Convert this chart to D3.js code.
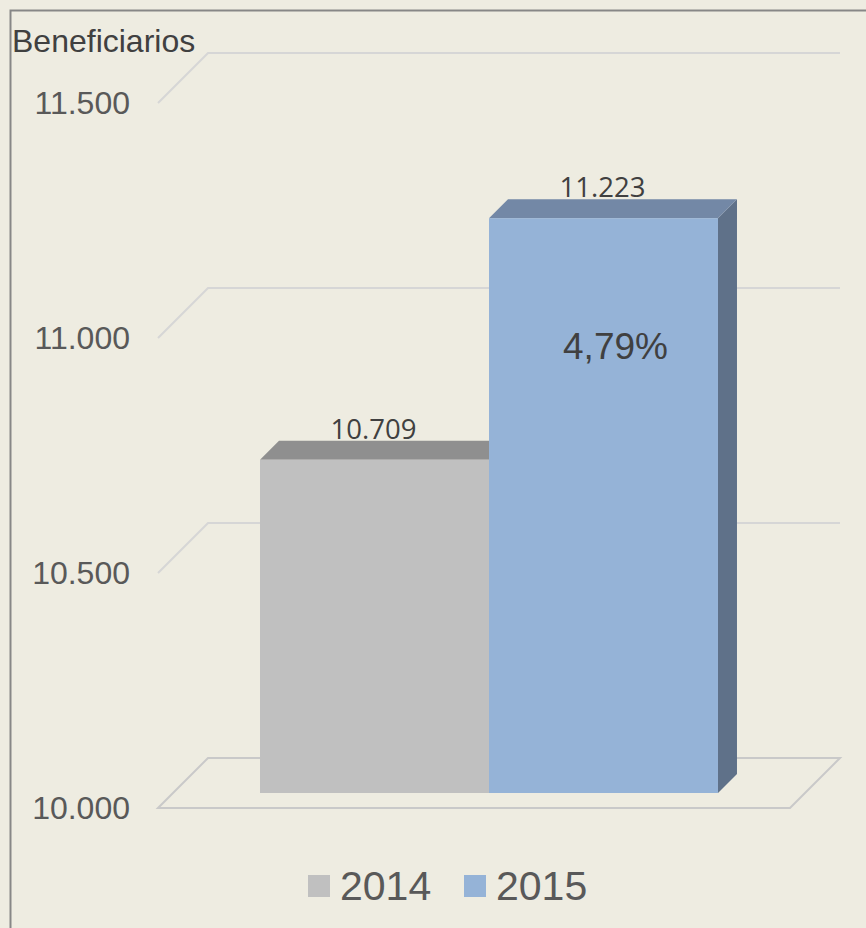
<!DOCTYPE html>
<html>
<head>
<meta charset="utf-8">
<script src="https://cdn.jsdelivr.net/npm/d3@7"></script>
<style>
  body { margin: 0; background: #EEECE1; }
  svg { display: block; }
</style>
</head>
<body>
<svg id="chart"></svg>
<script>
const categories = ["2014", "2015"];
const values = [10709, 11223];
const yTicks = [10000, 10500, 11000, 11500];
const axisTitle = "Beneficiarios";
const growthLabel = "4,79%";

const W = 866, H = 928;
const depth = 50;          // back wall offset
const barFront = 15, barBack = 34;

const colors = [
  {front: "#C0C0C0", top: "#8F8F8F", side: "#7A7A7A"},
  {front: "#95B3D7", top: "#7388A6", side: "#5F7189"}
];

const locale = d3.formatLocale({decimal: ",", thousands: ".", grouping: [3], currency: ["", ""]});
const fmt = locale.format(",d");

const svg = d3.select("#chart").attr("width", W).attr("height", H);

svg.append("rect").attr("width", W).attr("height", H).attr("fill", "#EEECE1");
// frame
svg.append("path")
    .attr("d", `M10.5,${H} V10.5 H${W}`)
    .attr("fill", "none").attr("stroke", "#878787").attr("stroke-width", 2);

const y = d3.scaleLinear().domain([10000, 11500]).range([808, 103]);
const x = d3.scaleBand().domain(categories).range([158, 790]).paddingInner(0).paddingOuter(0.38);
const x0 = 158, x1 = 790;

// wall gridlines
const grid = svg.append("g");
grid.selectAll("path.grid")
    .data(yTicks.filter(d => d !== y.domain()[0]))
    .join("path")
    .attr("d", d => `M${x0},${y(d)} L${x0 + depth},${y(d) - depth} H${x1 + depth}`)
    .attr("fill", "none").attr("stroke", "#D6D6D6").attr("stroke-width", 2);

// floor
const base = y.domain()[0];
grid.append("path")
    .attr("d", `M${x0},${y(base)} L${x0 + depth},${y(base) - depth} H${x1 + depth} L${x1},${y(base)} Z`)
    .attr("fill", "none").attr("stroke", "#C9C9C9").attr("stroke-width", 2);

// y axis
const axis = svg.append("g")
    .attr("transform", "translate(130,0)")
    .call(d3.axisLeft(y).tickValues(yTicks).tickFormat(fmt).tickSize(0).tickPadding(0));
axis.select(".domain").remove();
axis.selectAll("text")
    .attr("font-family", "'Liberation Sans', Arial, sans-serif")
    .attr("font-size", 32)
    .attr("fill", "#595959");

svg.append("text")
    .attr("x", 12).attr("y", 52)
    .attr("font-family", "'Liberation Sans', Arial, sans-serif")
    .attr("font-size", 32)
    .attr("fill", "#404040")
    .text(axisTitle);

// bars
const data = categories.map((c, i) => ({cat: c, value: values[i], col: colors[i]}));
const bars = svg.append("g");
data.forEach(d => {
  const xa = x(d.cat), xb = x(d.cat) + x.bandwidth();
  const yt = y(d.value), yb = y(base);
  const g = bars.append("g");
  g.append("path")
      .attr("d", `M${xb + barFront},${yt - barFront} L${xb + barBack},${yt - barBack} L${xb + barBack},${yb - barBack} L${xb + barFront},${yb - barFront} Z`)
      .attr("fill", d.col.side);
  g.append("path")
      .attr("d", `M${xa + barFront},${yt - barFront} L${xa + barBack},${yt - barBack} L${xb + barBack},${yt - barBack} L${xb + barFront},${yt - barFront} Z`)
      .attr("fill", d.col.top);
  g.append("rect")
      .attr("x", xa + barFront).attr("y", yt - barFront)
      .attr("width", x.bandwidth()).attr("height", yb - yt)
      .attr("fill", d.col.front);
});

// value labels
svg.append("g").selectAll("text")
    .data(data)
    .join("text")
    .attr("x", d => x(d.cat) + x.bandwidth() / 2 + barFront - 1)
    .attr("y", d => y(d.value) - barFront - 21)
    .attr("text-anchor", "middle")
    .attr("font-family", "'Open Sans', sans-serif")
    .attr("font-size", 27.5)
    .attr("fill", "#404040")
    .text(d => fmt(d.value));

// growth label
svg.append("text")
    .attr("x", x("2015") + x.bandwidth() / 2 + barFront + 12)
    .attr("y", 359)
    .attr("text-anchor", "middle")
    .attr("font-family", "'Liberation Sans', Arial, sans-serif")
    .attr("font-size", 37)
    .attr("fill", "#404040")
    .text(growthLabel);

// legend
const legend = svg.append("g").selectAll("g")
    .data(data)
    .join("g")
    .attr("transform", (d, i) => `translate(${308 + i * 156},875)`);
legend.append("rect").attr("width", 22).attr("height", 22).attr("fill", d => d.col.front);
legend.append("text")
    .attr("x", 32).attr("y", 25)
    .attr("font-family", "'Liberation Sans', Arial, sans-serif")
    .attr("font-size", 41)
    .attr("fill", "#595959")
    .text(d => d.cat);
</script>
</body>
</html>
